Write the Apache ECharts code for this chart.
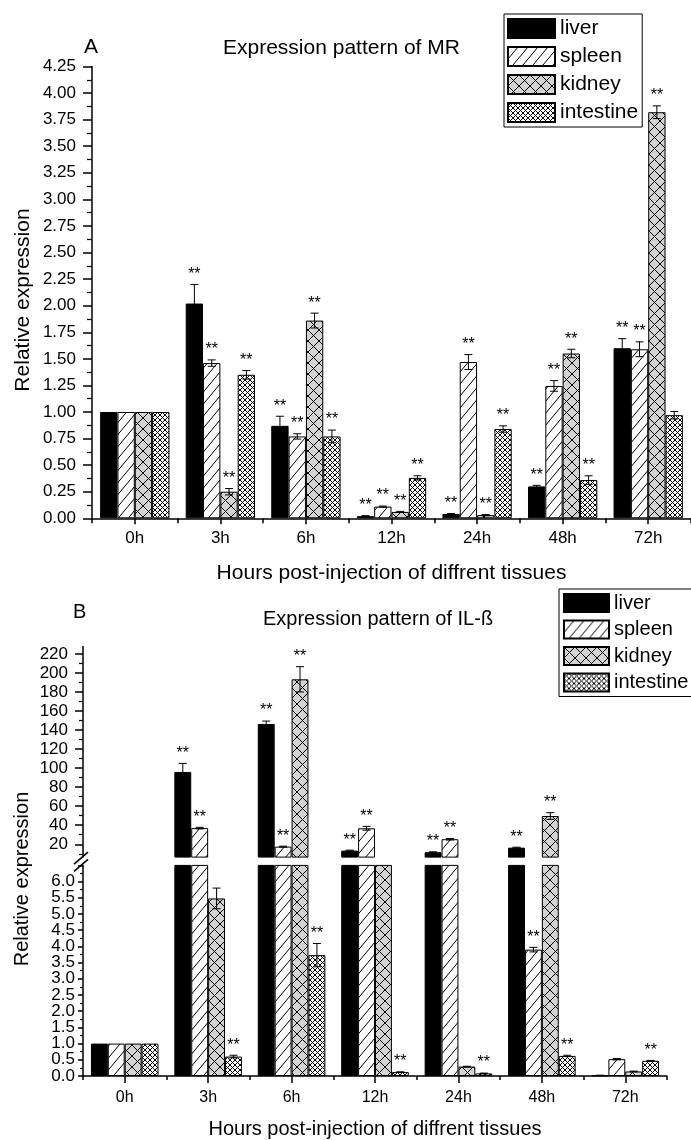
<!DOCTYPE html>
<html>
<head>
    <meta charset="utf-8">
    <title>Expression pattern</title>
    <script src="https://cdn.jsdelivr.net/npm/echarts@6/dist/echarts.min.js"></script>
    <style>
        html, body { margin: 0; padding: 0; background: #fff; }
    </style>
</head>
<body>
    <div id="main" style="width: 691px;height:1140px;"></div>
    <script type="text/javascript">
        // categories
        var hours = ['0h', '3h', '6h', '12h', '24h', '48h', '72h'];
        var tissues = ['liver', 'spleen', 'kidney', 'intestine'];

        // panel A: MR
        var mrLiver = [1.00, 2.02, 0.87, 0.02, 0.04, 0.30, 1.60];
        var mrLiverErr = [0, 0.18, 0.09, 0.005, 0.005, 0.01, 0.09];
        var mrSpleen = [1.00, 1.46, 0.77, 0.11, 1.47, 1.245, 1.59];
        var mrSpleenErr = [0, 0.03, 0.025, 0.005, 0.07, 0.05, 0.07];
        var mrKidney = [1.00, 0.25, 1.86, 0.06, 0.03, 1.55, 3.82];
        var mrKidneyErr = [0, 0.03, 0.07, 0.005, 0.005, 0.04, 0.06];
        var mrIntestine = [1.00, 1.35, 0.77, 0.38, 0.84, 0.36, 0.97];
        var mrIntestineErr = [0, 0.04, 0.06, 0.02, 0.03, 0.04, 0.035];
        // 1 = "**"
        var mrLiverSig = [0, 1, 1, 1, 1, 1, 1];
        var mrSpleenSig = [0, 1, 1, 1, 1, 1, 1];
        var mrKidneySig = [0, 1, 1, 1, 1, 1, 1];
        var mrIntestineSig = [0, 1, 1, 1, 1, 1, 0];

        // panel B: IL-ß
        var ilLiver = [1.0, 96, 146.5, 13.3, 11.6, 16.4, 0.02];
        var ilLiverErr = [0, 9, 3, 0.5, 0.5, 0.5, 0.005];
        var ilSpleen = [1.0, 37, 17.5, 36.8, 25.3, 3.90, 0.52];
        var ilSpleenErr = [0, 0.8, 0.5, 2, 0.8, 0.07, 0.02];
        var ilKidney = [1.0, 5.48, 193.4, 7.0, 0.29, 49.7, 0.14];
        var ilKidneyErr = [0, 0.32, 13.3, 0, 0.01, 3.5, 0.01];
        var ilIntestine = [1.0, 0.60, 3.73, 0.12, 0.08, 0.62, 0.47];
        var ilIntestineErr = [0, 0.04, 0.36, 0.01, 0.01, 0.02, 0.01];
        var ilLiverSig = [0, 1, 1, 1, 1, 1, 0];
        var ilSpleenSig = [0, 1, 1, 1, 1, 1, 0];
        var ilKidneySig = [0, 0, 1, 0, 0, 1, 0];
        var ilIntestineSig = [0, 1, 1, 1, 1, 1, 1];

        // tick labels
        var mrTickStep = 0.25;
        var ilLowStep = 0.5;
        var ilUpperTicks = [20, 40, 60, 80, 100, 120, 140, 160, 180, 200, 220];
        var ilUpperMinor = [10, 30, 50, 70, 90, 110, 130, 150, 170, 190, 210];

        var FONT = "'Liberation Sans', Arial, sans-serif";
        var GAP = 0.19;
        var LOW_MAX = 6.5;   // axis break

        // layout
        var A_LEFT = 92, A_TOP = 66.5, A_H = 451.8;
        var B_LEFT = 83, B_RIGHT = 24;
        var B_UP_TOP = 646.4, B_UP_H = 210.7;
        var B_LOW_TOP = 865.4, B_LOW_H = 211.9;

        function makePattern(w, h, bg, draw) {
            var c = document.createElement('canvas');
            c.width = w;
            c.height = h;
            var ctx = c.getContext('2d');
            ctx.fillStyle = bg;
            ctx.fillRect(0, 0, w, h);
            ctx.strokeStyle = '#000';
            ctx.lineWidth = 1;
            ctx.beginPath();
            draw(ctx, w, h);
            ctx.stroke();
            return { image: c, repeat: 'repeat' };
        }
        function slash(ctx, w, h) {
            for (var k = -1; k <= 1; k++) {
                ctx.moveTo(k * w, h);
                ctx.lineTo((k + 1) * w, 0);
            }
        }
        function backslash(ctx, w, h) {
            for (var k = -1; k <= 1; k++) {
                ctx.moveTo(k * w, 0);
                ctx.lineTo((k + 1) * w, h);
            }
        }
        var fills = [
            '#000',
            makePattern(10, 12, '#fff', slash),
            makePattern(11, 11, '#d3d3d3', function(ctx, w, h) { slash(ctx, w, h); backslash(ctx, w, h); }),
            makePattern(5, 5, '#fff', function(ctx, w, h) { slash(ctx, w, h); backslash(ctx, w, h); })
        ];

        function barSeries(k, values, xi, yi) {
            return {
                name: tissues[k],
                type: 'bar',
                xAxisIndex: xi,
                yAxisIndex: yi,
                data: values,
                barGap: '0%',
                barCategoryGap: (GAP * 100) + '%',
                clip: true,
                itemStyle: {
                    color: fills[k],
                    borderColor: '#000',
                    borderWidth: 1
                },
                emphasis: { disabled: true }
            };
        }

        // [category, tissue, value, error, star]
        function marks(sets, keep) {
            var out = [];
            sets.forEach(function(s, k) {
                s[0].forEach(function(v, i) {
                    if (keep(v)) out.push([i, k, v, s[1][i], s[2][i]]);
                });
            });
            return out;
        }

        function renderMarks(params, api) {
            var cat = api.value(0), k = api.value(1), v = api.value(2), e = api.value(3), s = api.value(4);
            var band = api.size([1, 0])[0];
            var group = band * (1 - GAP);
            var bw = group / 4;
            var x = api.coord([cat, v])[0] - group / 2 + bw * (k + 0.5);
            var yTop = api.coord([cat, v + e])[1];
            var yLow = api.coord([cat, v - e])[1];
            var kids = [];
            var ls = { stroke: '#000', lineWidth: 1 };
            if (e > 0) {
                kids.push({ type: 'line', shape: { x1: x, y1: yTop, x2: x, y2: yLow }, style: ls });
                kids.push({ type: 'line', shape: { x1: x - 4, y1: yTop, x2: x + 4, y2: yTop }, style: ls });
                kids.push({ type: 'line', shape: { x1: x - 4, y1: yLow, x2: x + 4, y2: yLow }, style: ls });
            }
            if (s) {
                kids.push({
                    type: 'text',
                    style: {
                        text: '**', x: x, y: yTop - 2, align: 'center', verticalAlign: 'bottom',
                        fontSize: 16, fontFamily: FONT, fill: '#000'
                    }
                });
            }
            return { type: 'group', children: kids };
        }

        function markSeries(name, data, xi, yi) {
            return {
                name: name,
                type: 'custom',
                xAxisIndex: xi,
                yAxisIndex: yi,
                data: data,
                encode: { x: 0, y: 2 },
                renderItem: renderMarks,
                z: 5,
                silent: true
            };
        }

        var mrSets = [
            [mrLiver, mrLiverErr, mrLiverSig],
            [mrSpleen, mrSpleenErr, mrSpleenSig],
            [mrKidney, mrKidneyErr, mrKidneySig],
            [mrIntestine, mrIntestineErr, mrIntestineSig]
        ];
        var ilSets = [
            [ilLiver, ilLiverErr, ilLiverSig],
            [ilSpleen, ilSpleenErr, ilSpleenSig],
            [ilKidney, ilKidneyErr, ilKidneySig],
            [ilIntestine, ilIntestineErr, ilIntestineSig]
        ];

        var series = [];
        mrSets.forEach(function(s, k) { series.push(barSeries(k, s[0], 0, 0)); });
        ilSets.forEach(function(s, k) {
            series.push(barSeries(k, s[0].map(function(v) { return v > LOW_MAX ? v : '-'; }), 2, 1));
        });
        ilSets.forEach(function(s, k) { series.push(barSeries(k, s[0], 3, 2)); });
        series.push(markSeries('marksA', marks(mrSets, function() { return true; }), 0, 0));
        series.push(markSeries('marksBup', marks(ilSets, function(v) { return v > LOW_MAX; }), 2, 1));
        series.push(markSeries('marksBlow', marks(ilSets, function(v) { return v <= LOW_MAX; }), 3, 2));

        var black = { color: '#000', width: 1.5 };
        function labelStyle(size, margin) {
            return { color: '#000', fontSize: size, fontFamily: FONT, margin: margin };
        }

        var myChart = echarts.init(document.getElementById('main'), null, { renderer: 'canvas' });

        var option = {
            animation: false,
            backgroundColor: '#fff',
            textStyle: { fontFamily: FONT, color: '#000' },
            title: [
                { text: 'A', left: 84, top: 37, padding: 0, textStyle: { fontSize: 21, fontWeight: 'normal', fontFamily: FONT, color: '#000' } },
                { text: 'Expression pattern of MR', left: 223, top: 38, padding: 0, textStyle: { fontSize: 21, fontWeight: 'normal', fontFamily: FONT, color: '#000' } },
                { text: 'B', left: 73, top: 602, padding: 0, textStyle: { fontSize: 20, fontWeight: 'normal', fontFamily: FONT, color: '#000' } },
                { text: 'Expression pattern of IL-ß', left: 263, top: 609, padding: 0, textStyle: { fontSize: 20, fontWeight: 'normal', fontFamily: FONT, color: '#000' } }
            ],
            legend: [{
                data: tissues,
                orient: 'vertical',
                left: 504,
                top: 14,
                icon: 'rect',
                itemWidth: 47,
                itemHeight: 19,
                itemGap: 7,
                padding: [4, 4, 4, 3],
                borderColor: '#000',
                borderWidth: 1,
                backgroundColor: '#fff',
                selectedMode: false,
                textStyle: { fontSize: 21, fontFamily: FONT, color: '#000' }
            }, {
                data: tissues,
                orient: 'vertical',
                left: 559,
                top: 589,
                icon: 'rect',
                itemWidth: 45,
                itemHeight: 18,
                itemGap: 6.5,
                padding: [4, 4, 4, 4],
                borderColor: '#000',
                borderWidth: 1,
                backgroundColor: '#fff',
                selectedMode: false,
                textStyle: { fontSize: 20, fontFamily: FONT, color: '#000' }
            }],
            grid: [
                { left: A_LEFT, top: A_TOP, right: -6.5, height: A_H },
                { left: B_LEFT, top: B_UP_TOP, right: B_RIGHT, height: B_UP_H },
                { left: B_LEFT, top: B_LOW_TOP, right: B_RIGHT, height: B_LOW_H }
            ],
            xAxis: [{
                gridIndex: 0, type: 'category', data: hours, position: 'bottom',
                axisLine: { lineStyle: black },
                axisTick: { show: true, alignWithLabel: false, length: 5, lineStyle: black },
                axisLabel: labelStyle(17, 12),
                name: 'Hours post-injection of diffrent tissues',
                nameLocation: 'middle',
                nameGap: 44,
                nameTextStyle: { fontSize: 21, fontFamily: FONT, color: '#000' }
            }, {
                gridIndex: 0, type: 'category', data: hours, position: 'bottom',
                axisLine: { show: false },
                axisTick: { show: true, alignWithLabel: true, length: 6, lineStyle: black },
                axisLabel: { show: false }
            }, {
                gridIndex: 1, type: 'category', data: hours, show: false
            }, {
                gridIndex: 2, type: 'category', data: hours, position: 'bottom',
                axisLine: { lineStyle: black },
                axisTick: { show: true, alignWithLabel: false, length: 4, lineStyle: black },
                axisLabel: labelStyle(16, 14),
                name: 'Hours post-injection of diffrent tissues',
                nameLocation: 'middle',
                nameGap: 43,
                nameTextStyle: { fontSize: 20, fontFamily: FONT, color: '#000' }
            }, {
                gridIndex: 2, type: 'category', data: hours, position: 'bottom',
                axisLine: { show: false },
                axisTick: { show: true, alignWithLabel: true, length: 7, lineStyle: black },
                axisLabel: { show: false }
            }],
            yAxis: [{
                gridIndex: 0, type: 'value', position: 'left',
                min: 0, max: 4.25, interval: mrTickStep,
                axisLine: { show: true, lineStyle: black },
                axisTick: { show: true, length: 9, lineStyle: black },
                minorTick: { show: true, splitNumber: 2, length: 5, lineStyle: { color: '#000', width: 1.2 } },
                splitLine: { show: false },
                axisLabel: Object.assign(labelStyle(17, 16), {
                    showMinLabel: true,
                    formatter: function(v) { return v.toFixed(2); }
                })
            }, {
                gridIndex: 1, type: 'value', position: 'left',
                min: LOW_MAX, max: 228,
                axisLine: { show: true, lineStyle: black },
                axisTick: { show: true, length: 8, customValues: ilUpperTicks, lineStyle: black },
                splitLine: { show: false },
                axisLabel: Object.assign(labelStyle(17, 15), { customValues: ilUpperTicks })
            }, {
                gridIndex: 2, type: 'value', position: 'left',
                min: 0, max: LOW_MAX, interval: ilLowStep,
                axisLine: { show: true, lineStyle: black },
                axisTick: { show: true, length: 5, lineStyle: black },
                minorTick: { show: true, splitNumber: 2, length: 3, lineStyle: { color: '#000', width: 1.2 } },
                splitLine: { show: false },
                axisLabel: Object.assign(labelStyle(17, 8), {
                    showMinLabel: false,
                    showMaxLabel: false,
                    formatter: function(v) { return v.toFixed(1); }
                })
            }, {
                gridIndex: 1, type: 'value', position: 'left',
                min: LOW_MAX, max: 228,
                axisLine: { show: false },
                axisTick: { show: true, length: 4, customValues: ilUpperMinor, lineStyle: { color: '#000', width: 1.2 } },
                splitLine: { show: false },
                axisLabel: { show: false }
            }, {
                // the 0.0 label of the lower segment, kept apart from the overlap check
                gridIndex: 2, type: 'value', position: 'left',
                min: 0, max: LOW_MAX,
                axisLine: { show: false },
                axisTick: { show: false },
                splitLine: { show: false },
                axisLabel: Object.assign(labelStyle(17, 8), {
                    customValues: [0],
                    formatter: function(v) { return v.toFixed(1); }
                })
            }],
            graphic: [
                {
                    type: 'text', x: 23, y: 300, rotation: Math.PI / 2,
                    style: { text: 'Relative expression', fontSize: 21, fontFamily: FONT, fill: '#000', align: 'center', verticalAlign: 'middle' }
                },
                {
                    type: 'text', x: 22, y: 879, rotation: Math.PI / 2,
                    style: { text: 'Relative expression', fontSize: 20, fontFamily: FONT, fill: '#000', align: 'center', verticalAlign: 'middle' }
                },
                // axis break marks
                {
                    type: 'line', z: 10,
                    shape: { x1: B_LEFT - 9, y1: B_UP_TOP + B_UP_H + 7, x2: B_LEFT + 5, y2: B_UP_TOP + B_UP_H - 5 },
                    style: { stroke: '#000', lineWidth: 1.5 }
                },
                {
                    type: 'line', z: 10,
                    shape: { x1: B_LEFT - 9, y1: B_LOW_TOP + 6, x2: B_LEFT + 5, y2: B_LOW_TOP - 6 },
                    style: { stroke: '#000', lineWidth: 1.5 }
                }
            ],
            series: series
        };

        myChart.setOption(option);
    </script>
</body>
</html>
